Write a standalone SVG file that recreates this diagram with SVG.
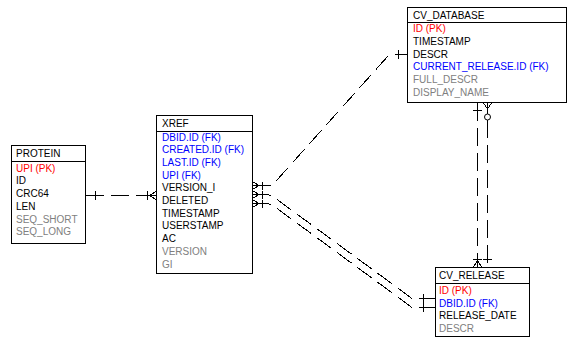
<svg xmlns="http://www.w3.org/2000/svg" width="578" height="344" viewBox="0 0 578 344">
<style>
.box{fill:#fff;stroke:#000;stroke-width:1;shape-rendering:crispEdges}
.sep{stroke:#000;stroke-width:1;shape-rendering:crispEdges}
text{font-family:"Liberation Sans",Arial,sans-serif;font-size:10px;fill:#000}
.pk{fill:#ff0000}
.fk{fill:#0000ff}
.opt{fill:#808080}
.c{fill:none;stroke:#000;stroke-width:1;shape-rendering:crispEdges}
.d{stroke-dasharray:18 7}
.m{fill:none;stroke:#000;stroke-width:1;shape-rendering:crispEdges}
</style>
<rect width="578" height="344" fill="#fff"/>
<g id="connectors">
  <!-- PROTEIN - XREF -->
  <line class="c d" x1="86" y1="195.5" x2="148" y2="195.5"/>
  <line class="m" x1="95.5" y1="191" x2="95.5" y2="200"/>
  <line class="m" x1="147.5" y1="191" x2="147.5" y2="200"/>
  <line class="m" x1="148" y1="195.5" x2="156" y2="195.5"/>
  <polyline class="c" points="156,191.5 149.5,195.5 156,199.5"/>
  <!-- XREF - CV_DATABASE -->
  <polyline class="c d" points="253,185.5 272,185.5 277,180 388,56 390,54.5 407,54.5"/>
  <line class="m" x1="398.5" y1="50" x2="398.5" y2="59"/>
  <line class="m" x1="262.5" y1="181.5" x2="262.5" y2="189.5"/>
  <polyline class="c" points="253,182 259,185.5 253,189"/>
  <!-- XREF - CV_RELEASE (1) -->
  <polyline class="c d" points="253,194.5 268,194.5 273,196.5 412,298.5 435,298.5"/>
  <line class="m" x1="262.5" y1="190.5" x2="262.5" y2="198.5"/>
  <polyline class="c" points="253,191 259,194.5 253,198"/>
  <line class="m" x1="423.5" y1="294" x2="423.5" y2="303"/>
  <!-- XREF - CV_RELEASE (2) -->
  <polyline class="c d" points="253,203.5 268,203.5 273,205.5 412,307.5 435,307.5"/>
  <line class="m" x1="262.5" y1="199.5" x2="262.5" y2="207.5"/>
  <polyline class="c" points="253,200 259,203.5 253,207"/>
  <line class="m" x1="423.5" y1="303" x2="423.5" y2="312"/>
  <!-- CV_DATABASE - CV_RELEASE (left) -->
  <line class="c d" x1="477.5" y1="103" x2="477.5" y2="267"/>
  <line class="m" x1="473" y1="110.5" x2="482" y2="110.5"/>
  <line class="m" x1="473" y1="259.5" x2="482" y2="259.5"/>
  <polyline class="c" points="473.5,267 477.5,260.5 481.5,267"/>
  <!-- CV_DATABASE - CV_RELEASE (right) -->
  <line class="c d" x1="487.5" y1="120" x2="487.5" y2="267"/>
  <polyline class="c" points="483.5,103 487.5,109 491.5,103"/>
  <line class="m" x1="487.5" y1="103" x2="487.5" y2="114"/>
  <circle cx="487.5" cy="117" r="3" fill="#fff" stroke="#000" stroke-width="1"/>
  <line class="m" x1="483" y1="259.5" x2="492" y2="259.5"/>
</g>
<g id="PROTEIN">
  <rect class="box" x="11.5" y="145.5" width="74" height="98"/>
  <line class="sep" x1="11" y1="161.5" x2="86" y2="161.5"/>
  <text x="16" y="157">PROTEIN</text>
  <text x="16" y="171.7" class="pk">UPI (PK)</text>
  <text x="16" y="184.4">ID</text>
  <text x="16" y="197.1">CRC64</text>
  <text x="16" y="209.8">LEN</text>
  <text x="16" y="222.5" class="opt">SEQ_SHORT</text>
  <text x="16" y="235.2" class="opt">SEQ_LONG</text>
</g>
<g id="XREF">
  <rect class="box" x="156.5" y="115.5" width="96" height="158"/>
  <line class="sep" x1="156" y1="131.5" x2="253" y2="131.5"/>
  <text x="162" y="127">XREF</text>
  <text x="162" y="140.5" class="fk">DBID.ID (FK)</text>
  <text x="162" y="153.2" class="fk">CREATED.ID (FK)</text>
  <text x="162" y="165.9" class="fk">LAST.ID (FK)</text>
  <text x="162" y="178.6" class="fk">UPI (FK)</text>
  <text x="162" y="191.3">VERSION_I</text>
  <text x="162" y="204">DELETED</text>
  <text x="162" y="216.7">TIMESTAMP</text>
  <text x="162" y="229.4">USERSTAMP</text>
  <text x="162" y="242.1">AC</text>
  <text x="162" y="254.8" class="opt">VERSION</text>
  <text x="162" y="267.5" class="opt">GI</text>
</g>
<g id="CV_DATABASE">
  <rect class="box" x="407.5" y="7.5" width="159" height="95"/>
  <line class="sep" x1="407" y1="22.5" x2="567" y2="22.5"/>
  <text x="413" y="18.5">CV_DATABASE</text>
  <text x="413" y="32.3" class="pk">ID (PK)</text>
  <text x="413" y="45">TIMESTAMP</text>
  <text x="413" y="57.7">DESCR</text>
  <text x="413" y="70.4" class="fk">CURRENT_RELEASE.ID (FK)</text>
  <text x="413" y="83.1" class="opt">FULL_DESCR</text>
  <text x="413" y="95.8" class="opt">DISPLAY_NAME</text>
</g>
<g id="CV_RELEASE">
  <rect class="box" x="435.5" y="267.5" width="94" height="69"/>
  <line class="sep" x1="435" y1="283.5" x2="530" y2="283.5"/>
  <text x="439" y="279">CV_RELEASE</text>
  <text x="439" y="294.3" class="pk">ID (PK)</text>
  <text x="439" y="306.8" class="fk">DBID.ID (FK)</text>
  <text x="439" y="319.3">RELEASE_DATE</text>
  <text x="439" y="331.8" class="opt">DESCR</text>
</g>
</svg>
